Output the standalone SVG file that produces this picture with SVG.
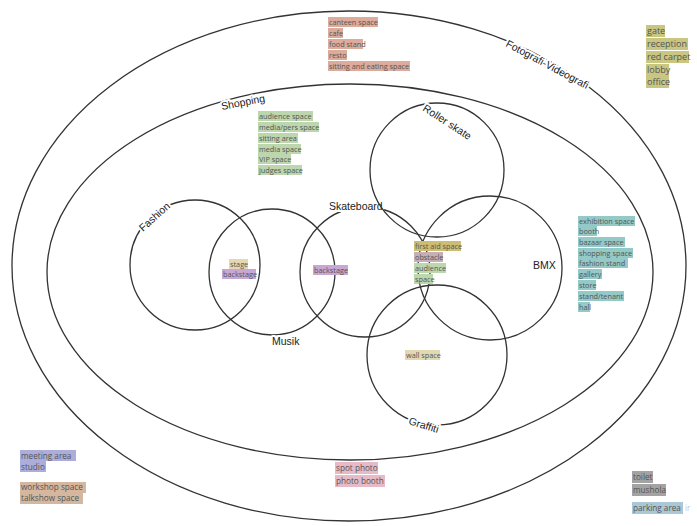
<svg xmlns="http://www.w3.org/2000/svg" width="697" height="526" viewBox="0 0 697 526">
<style>
.c{fill:none;stroke:#333;stroke-width:1.3}
.lb{font-family:"Liberation Sans","Open Sans",sans-serif;font-size:10.5px;fill:#222;stroke:#fff;stroke-width:4px;paint-order:stroke;stroke-linejoin:round}
.t{font-family:"Open Sans","Liberation Sans",sans-serif;font-size:7.3px;fill:#555}
.tg{font-family:"Open Sans","Liberation Sans",sans-serif;font-size:9px;fill:#555}
.tb{font-family:"Open Sans","Liberation Sans",sans-serif;font-size:8.2px;fill:#555}
.sal{fill:#dcab9c}.oli{fill:#c9c682}.grn{fill:#bcd6ad}.tea{fill:#93c9c6}
.yel{fill:#cdbd72}.pur{fill:#c9a7d4}.tan{fill:#e2d9b2}.blu{fill:#adadd9}
.brn{fill:#d4b79e}.pnk{fill:#e6bac7}.gry{fill:#a3a3a3}.lbl{fill:#aac7d6}
.obs{fill:#c5aeb4}
</style>
<rect width="697" height="526" fill="#fff"/>
<g id="connectors"></g>
<g id="fotografi">
<ellipse class="c" cx="349" cy="266" rx="337" ry="255"/>
<text class="lb" transform="translate(505,46) rotate(28)">Fotografi-Videografi</text>
</g>
<g id="shopping">
<ellipse class="c" cx="350" cy="272" rx="303" ry="188"/>
<text class="lb" transform="translate(222,110) rotate(-11)">Shopping</text>
</g>
<g id="fashion">
<circle class="c" cx="195" cy="265" r="65"/>
<text class="lb" transform="translate(143,232) rotate(-42)">Fashion</text>
</g>
<g id="musik">
<circle class="c" cx="272" cy="272" r="63"/>
<text class="lb" x="272" y="345">Musik</text>
</g>
<g id="skateboard">
<circle class="c" cx="365" cy="272" r="65"/>
<text class="lb" x="329" y="210">Skateboard</text>
</g>
<g id="rollerskate">
<circle class="c" cx="437" cy="170" r="67"/>
<text class="lb" transform="translate(422,110) rotate(33)">Roller skate</text>
</g>
<g id="bmx">
<circle class="c" cx="490" cy="268" r="72"/>
<text class="lb" x="533" y="269">BMX</text>
</g>
<g id="graffiti">
<circle class="c" cx="437" cy="355" r="70"/>
<text class="lb" transform="translate(408,424) rotate(17)">Graffiti</text>
</g>
<g id="canteen">
<rect class="sal" x="328" y="17" width="50" height="10"/><text class="t" x="329" y="25">canteen space</text>
<rect class="sal" x="328" y="28" width="15" height="10"/><text class="t" x="329" y="36">cafe</text>
<rect class="sal" x="328" y="39" width="35" height="10"/><text class="t" x="329" y="47">food stand</text>
<rect class="sal" x="328" y="50" width="19" height="10"/><text class="t" x="329" y="58">resto</text>
<rect class="sal" x="328" y="61" width="82" height="10"/><text class="t" x="329" y="69">sitting and eating space</text>
</g>
<g id="gate">
<rect class="oli" x="646" y="25" width="19" height="12"/><text class="tg" x="647" y="34">gate</text>
<rect class="oli" x="646" y="38" width="42" height="12"/><text class="tg" x="647" y="47">reception</text>
<rect class="oli" x="646" y="51" width="43" height="12"/><text class="tg" x="647" y="60">red carpet</text>
<rect class="oli" x="646" y="64" width="23" height="12"/><text class="tg" x="647" y="73">lobby</text>
<rect class="oli" x="646" y="76" width="23" height="12"/><text class="tg" x="647" y="85">office</text>
</g>
<g id="audience">
<rect class="grn" x="258" y="111" width="55" height="10"/><text class="t" x="259" y="119">audience space</text>
<rect class="grn" x="258" y="122" width="61" height="10"/><text class="t" x="259" y="130">media/pers space</text>
<rect class="grn" x="258" y="133" width="40" height="10"/><text class="t" x="259" y="141">sitting area</text>
<rect class="grn" x="258" y="144" width="43" height="10"/><text class="t" x="259" y="152">media space</text>
<rect class="grn" x="258" y="154" width="33" height="10"/><text class="t" x="259" y="162">VIP space</text>
<rect class="grn" x="258" y="165" width="44" height="10"/><text class="t" x="259" y="173">judges space</text>
</g>
<g id="exhibition">
<rect class="tea" x="578" y="216" width="57" height="10"/><text class="t" x="579" y="224">exhibition space</text>
<rect class="tea" x="578" y="226" width="19" height="10"/><text class="t" x="579" y="234">booth</text>
<rect class="tea" x="578" y="237" width="47" height="10"/><text class="t" x="579" y="245">bazaar space</text>
<rect class="tea" x="578" y="248" width="55" height="10"/><text class="t" x="579" y="256">shopping space</text>
<rect class="tea" x="578" y="258" width="50" height="10"/><text class="t" x="579" y="266">fashion stand</text>
<rect class="tea" x="578" y="269" width="24" height="10"/><text class="t" x="579" y="277">gallery</text>
<rect class="tea" x="578" y="280" width="18" height="10"/><text class="t" x="579" y="288">store</text>
<rect class="tea" x="578" y="291" width="46" height="10"/><text class="t" x="579" y="299">stand/tenant</text>
<rect class="tea" x="578" y="302" width="12" height="10"/><text class="t" x="579" y="310">hall</text>
</g>
<g id="center">
<rect class="yel" x="414" y="241" width="47" height="10"/><text class="t" x="415" y="249">first aid space</text>
<rect class="obs" x="414" y="252" width="29" height="10"/><text class="t" x="415" y="260">obstacle</text>
<rect class="grn" x="414" y="263" width="32" height="10"/><text class="t" x="415" y="271">audience</text>
<rect class="grn" x="414" y="274" width="19" height="10"/><text class="t" x="415" y="282">space</text>
</g>
<g id="stage">
<rect class="tan" x="229" y="259" width="19" height="10"/><text class="t" x="230" y="267">stage</text>
<rect class="pur" x="222" y="269" width="34" height="10"/><text class="t" x="223" y="277">backstage</text>
</g>
<g id="backstage2">
<rect class="pur" x="313" y="265" width="35" height="10"/><text class="t" x="314" y="273">backstage</text>
</g>
<g id="wall">
<rect class="tan" x="405" y="350" width="35" height="10"/><text class="t" x="406" y="358">wall space</text>
</g>
<g id="meeting">
<rect class="blu" x="20" y="450" width="56" height="11"/><text class="tb" x="21" y="459">meeting area</text>
<rect class="blu" x="20" y="461" width="26" height="11"/><text class="tb" x="21" y="470">studio</text>
</g>
<g id="workshop">
<rect class="brn" x="20" y="482" width="66" height="11"/><text class="tb" x="21" y="490">workshop space</text>
<rect class="brn" x="20" y="493" width="63" height="11"/><text class="tb" x="21" y="501">talkshow space</text>
</g>
<g id="spot">
<rect class="pnk" x="335" y="462" width="43" height="12"/><text class="tb" x="336" y="471">spot photo</text>
<rect class="pnk" x="335" y="475" width="50" height="12"/><text class="tb" x="336" y="484">photo booth</text>
</g>
<g id="toilet">
<rect class="gry" x="632" y="471" width="21" height="12"/><text class="tb" x="633" y="480">toilet</text>
<rect class="gry" x="632" y="484" width="34" height="12"/><text class="tb" x="633" y="493">mushola</text>
</g>
<g id="parking">
<rect class="lbl" x="632" y="502" width="51" height="12"/><text class="tb" x="633" y="511">parking area</text>
<text class="tb" x="685" y="511" style="fill:#c8c8c8">ir</text>
</g>
</svg>
